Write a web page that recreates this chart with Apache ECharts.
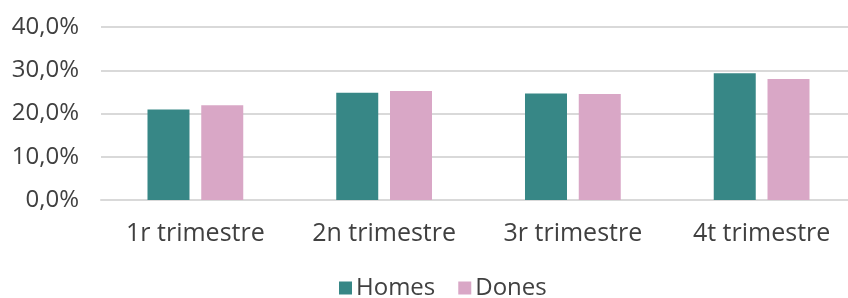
<!DOCTYPE html>
<html>
<head>
<meta charset="utf-8">
<script src="https://cdn.jsdelivr.net/npm/echarts@6/dist/echarts.min.js"></script>
<style>
  html, body { margin: 0; padding: 0; background: #fff; }
  #chart { width: 848px; height: 298px; }
</style>
</head>
<body>
<div id="chart"></div>
<script>
var categories = ['1r trimestre', '2n trimestre', '3r trimestre', '4t trimestre'];
var seriesNames = ['Homes', 'Dones'];
var homesData = [20.9, 24.8, 24.6, 29.3];  // %
var donesData = [21.9, 25.2, 24.5, 28.0];  // %
var yTicks = [0, 10, 20, 30, 40];

var textColor = '#404040';
var fontFamily = '"Open Sans", sans-serif';

var myChart = echarts.init(document.getElementById('chart'));

var option = {
    animation: false,
    legend: {
        data: seriesNames,
        top: 276,
        left: 339,
        itemWidth: 13,
        itemHeight: 13,
        itemGap: 23,
        icon: 'rect',
        padding: 0,
        textStyle: { color: textColor, fontSize: 24, fontFamily: fontFamily, padding: [0, 0, 0, -1] }
    },
    grid: {
        left: 101,
        width: 755,
        top: 27,
        height: 173,
        outerBoundsMode: 'none',
        containLabel: false
    },
    xAxis: {
        type: 'category',
        data: categories,
        axisLine: { lineStyle: { color: '#d9d9d9', width: 2 } },
        axisTick: { show: false },
        axisLabel: {
            interval: 0,
            color: textColor,
            fontSize: 25,
            fontFamily: fontFamily,
            margin: 21
        }
    },
    yAxis: {
        type: 'value',
        min: yTicks[0],
        max: yTicks[yTicks.length - 1],
        interval: 10,
        axisLine: { show: false },
        axisTick: { show: false },
        splitLine: { lineStyle: { color: '#d9d9d9', width: 2 } },
        axisLabel: {
            color: textColor,
            fontSize: 24,
            fontFamily: fontFamily,
            margin: 22,
            formatter: function (v) { return v.toFixed(1).replace('.', ',') + '%'; }
        }
    },
    series: [
        {
            name: seriesNames[0],
            type: 'bar',
            data: homesData,
            barWidth: 42,
            barGap: '28%',
            itemStyle: { color: '#378786' }
        },
        {
            name: seriesNames[1],
            type: 'bar',
            data: donesData,
            barWidth: 42,
            itemStyle: { color: '#d9a7c6' }
        }
    ]
};

myChart.setOption(option);
</script>
</body>
</html>
